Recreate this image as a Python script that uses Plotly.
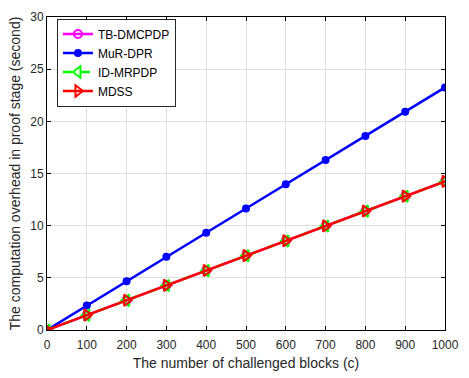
import plotly.graph_objects as go

blocks = [0, 100, 200, 300, 400, 500, 600, 700, 800, 900, 1000]
tb_dmcpdp = [0, 1.43, 2.85, 4.28, 5.70, 7.13, 8.55, 9.98, 11.40, 12.83, 14.25]
mur_dpr = [0, 2.35, 4.68, 7.02, 9.32, 11.65, 13.97, 16.30, 18.60, 20.92, 23.25]
id_mrpdp = [0, 1.42, 2.84, 4.27, 5.69, 7.12, 8.54, 9.97, 11.39, 12.82, 14.24]
mdss = [0, 1.43, 2.85, 4.28, 5.70, 7.13, 8.55, 9.98, 11.40, 12.83, 14.25]
x_ticks = [0, 100, 200, 300, 400, 500, 600, 700, 800, 900, 1000]
y_ticks = [0, 5, 10, 15, 20, 25, 30]

fig = go.Figure()
fig.add_trace(go.Scatter(x=blocks, y=tb_dmcpdp, name="TB-DMCPDP", mode="lines+markers",
                         line=dict(color="#ff00ff", width=2.5),
                         marker=dict(symbol="circle-open", size=8, color="#ff00ff", line=dict(width=2))))
fig.add_trace(go.Scatter(x=blocks, y=mur_dpr, name="MuR-DPR", mode="lines+markers",
                         line=dict(color="#0000ff", width=2.5),
                         marker=dict(symbol="circle", size=8, color="#0000ff")))
fig.add_trace(go.Scatter(x=blocks, y=id_mrpdp, name="ID-MRPDP", mode="lines+markers",
                         line=dict(color="#00ff00", width=2.5, dash="dash"),
                         marker=dict(symbol="triangle-left-open", size=10, color="#00ff00", line=dict(width=2))))
fig.add_trace(go.Scatter(x=blocks, y=mdss, name="MDSS", mode="lines+markers",
                         line=dict(color="#ff0000", width=2.5),
                         marker=dict(symbol="triangle-right-open", size=10, color="#ff0000", line=dict(width=2))))

axis_common = dict(showline=True, linecolor="black", linewidth=1, mirror="ticks",
                   ticks="inside", ticklen=4, tickcolor="black",
                   showgrid=True, gridcolor="#e0e0e0", gridwidth=1, zeroline=False,
                   ticklabeloverflow="allow",
                   tickfont=dict(size=12, color="#262626"))

fig.update_layout(
    width=469, height=378,
    margin=dict(l=47, r=12, t=10, b=48),
    paper_bgcolor="white", plot_bgcolor="white",
    font=dict(family="Liberation Sans, Arial, sans-serif", size=12, color="#262626"),
    xaxis=dict(range=[0, 1000], tickvals=x_ticks, ticklabelstandoff=4,
               title=dict(text="The number of challenged blocks (c)", font=dict(size=14), standoff=6),
               **axis_common),
    yaxis=dict(range=[0, 30], tickvals=y_ticks,
               title=dict(text="The computation overhead in proof stage (second)", font=dict(size=14), standoff=6),
               **axis_common),
    legend=dict(x=0.025, y=0.995, xanchor="left", yanchor="top",
                bordercolor="#262626", borderwidth=1, bgcolor="white",
                font=dict(size=12, color="black"), tracegroupgap=0, itemwidth=30),
    showlegend=True,
)

fig.write_html("out.html")
